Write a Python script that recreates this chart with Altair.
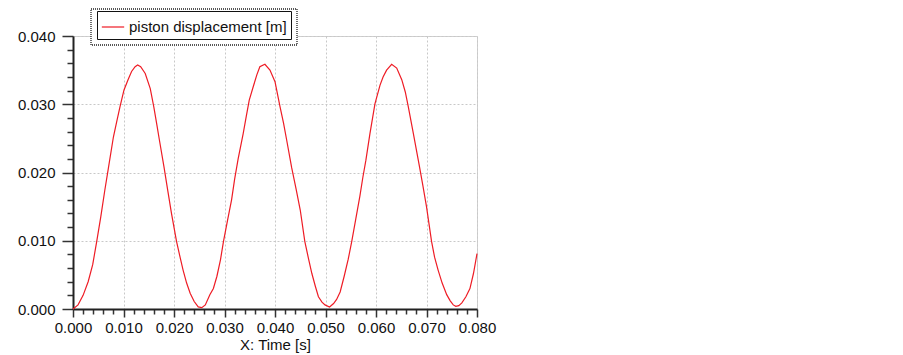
import altair as alt
import pandas as pd

time_s = [0.0000, 0.0010, 0.0020, 0.0030, 0.0039, 0.0047, 0.0055, 0.0063, 0.0070, 0.0080,
          0.0087, 0.0093, 0.0101, 0.0109, 0.0116, 0.0123, 0.0128, 0.0134, 0.0143, 0.0153,
          0.0160, 0.0166, 0.0171, 0.0180, 0.0188, 0.0195, 0.0205, 0.0212, 0.0218, 0.0225,
          0.0232, 0.0240, 0.0248, 0.0255, 0.0262, 0.0271, 0.0278, 0.0285, 0.0292, 0.0298,
          0.0306, 0.0314, 0.0320, 0.0327, 0.0337, 0.0343, 0.0349, 0.0357, 0.0364, 0.0370,
          0.0380, 0.0390, 0.0400, 0.0410, 0.0417, 0.0423, 0.0433, 0.0442, 0.0450, 0.0459,
          0.0466, 0.0473, 0.0480, 0.0486, 0.0493, 0.0499, 0.0508, 0.0516, 0.0522, 0.0529,
          0.0537, 0.0545, 0.0552, 0.0560, 0.0568, 0.0574, 0.0580, 0.0588, 0.0598, 0.0608,
          0.0614, 0.0621, 0.0631, 0.0641, 0.0651, 0.0658, 0.0664, 0.0674, 0.0686, 0.0693,
          0.0700, 0.0710, 0.0716, 0.0723, 0.0731, 0.0740, 0.0747, 0.0753, 0.0758, 0.0764,
          0.0770, 0.0778, 0.0786, 0.0793, 0.0800]
displacement_m = [0.0000, 0.0006, 0.0020, 0.0040, 0.0065, 0.0099, 0.0135, 0.0174, 0.0206, 0.0252,
                  0.0276, 0.0296, 0.0321, 0.0336, 0.0348, 0.0355, 0.03575, 0.0355, 0.0345, 0.0323,
                  0.0296, 0.0270, 0.0248, 0.0209, 0.0172, 0.0140, 0.0099, 0.0076, 0.0057, 0.0038,
                  0.0023, 0.0011, 0.0003, 0.0002, 0.0006, 0.0021, 0.0030, 0.0048, 0.0072, 0.0099,
                  0.0130, 0.0160, 0.0190, 0.0220, 0.0257, 0.0282, 0.0306, 0.0326, 0.0343, 0.0355,
                  0.03585, 0.0350, 0.0333, 0.0296, 0.0272, 0.0248, 0.0207, 0.0175, 0.0145, 0.0099,
                  0.0075, 0.0052, 0.0033, 0.0018, 0.0010, 0.0006, 0.0003, 0.0008, 0.0014, 0.0025,
                  0.0048, 0.0073, 0.0099, 0.0132, 0.0165, 0.0193, 0.0218, 0.0257, 0.0301, 0.0328,
                  0.0340, 0.0350, 0.03585, 0.0353, 0.0336, 0.0318, 0.0296, 0.0257, 0.0209, 0.0180,
                  0.0150, 0.0099, 0.0076, 0.0057, 0.0038, 0.0021, 0.0012, 0.0006, 0.0004, 0.0005,
                  0.0009, 0.0018, 0.0030, 0.0052, 0.0081]
series_name = "piston displacement [m]"
x_ticks = [round(i * 0.002, 3) for i in range(41)]
y_ticks = [round(i * 0.002, 3) for i in range(21)]

df = pd.DataFrame({"t": time_s, "v": displacement_m, "s": series_name})

FONT = "Liberation Sans"
major = "round(datum.value*1000) % 10 == 0"

x_axis = alt.Axis(
    values=x_ticks, title="X: Time [s]", titleFont=FONT, titleFontSize=15,
    titleFontWeight="normal", titleColor="#111", titlePadding=2,
    labelFont=FONT, labelFontSize=15, labelColor="#111", labelPadding=3,
    labelExpr=f"{major} ? format(datum.value, '.3f') : ''",
    labelOverlap=False, labelFlush=False,
    tickSize={"condition": {"test": major, "value": 8}, "value": 5},
    tickColor="#333", tickWidth=1.5, domainColor="#222", domainWidth=2,
    grid=True, gridColor="#c8c8c8", gridDash=[2, 2],
    gridOpacity={"condition": {"test": major, "value": 1}, "value": 0},
)
y_axis = alt.Axis(
    values=y_ticks, title=None,
    labelFont=FONT, labelFontSize=15, labelColor="#111", labelPadding=7,
    labelExpr=f"{major} ? format(datum.value, '.3f') : ''",
    labelOverlap=False, labelFlush=False,
    tickSize={"condition": {"test": major, "value": 11}, "value": 6},
    tickColor="#333", tickWidth=1.5, domainColor="#222", domainWidth=2,
    grid=True, gridColor="#c8c8c8", gridDash=[2, 2],
    gridOpacity={"condition": {"test": major, "value": 1}, "value": 0},
)

box = alt.Chart(pd.DataFrame({"k": [0]})).mark_rect(
    fill="white", stroke="#222", strokeDash=[1, 1], strokeWidth=1.3
).encode(x=alt.value(18), x2=alt.value(224), y=alt.value(-27), y2=alt.value(9))

line = alt.Chart(df).mark_line(strokeWidth=1.2).encode(
    x=alt.X("t:Q", scale=alt.Scale(domain=[0, 0.08], nice=False), axis=x_axis),
    y=alt.Y("v:Q", scale=alt.Scale(domain=[0, 0.04], nice=False), axis=y_axis),
    color=alt.Color("s:N", scale=alt.Scale(range=["#ee1c25"]),
                    legend=alt.Legend(
                        title=None, orient="none", legendX=24, legendY=-25,
                        labelFont=FONT, labelFontSize=15, labelColor="#111",
                        symbolType="stroke", symbolSize=500, symbolStrokeWidth=1.2,
                        labelOffset=4, padding=4, strokeColor="#111",
                        fillColor="white", rowPadding=0)),
)

chart = alt.layer(box, line).properties(
    width=404, height=273,
    autosize=alt.AutoSizeParams(type="none"),
    padding={"left": 65, "top": 28, "right": 20, "bottom": 46},
).configure_view(stroke="#d0d0d0", strokeWidth=1)

chart.save("out.html", embed_options={"renderer": "svg", "actions": False})
